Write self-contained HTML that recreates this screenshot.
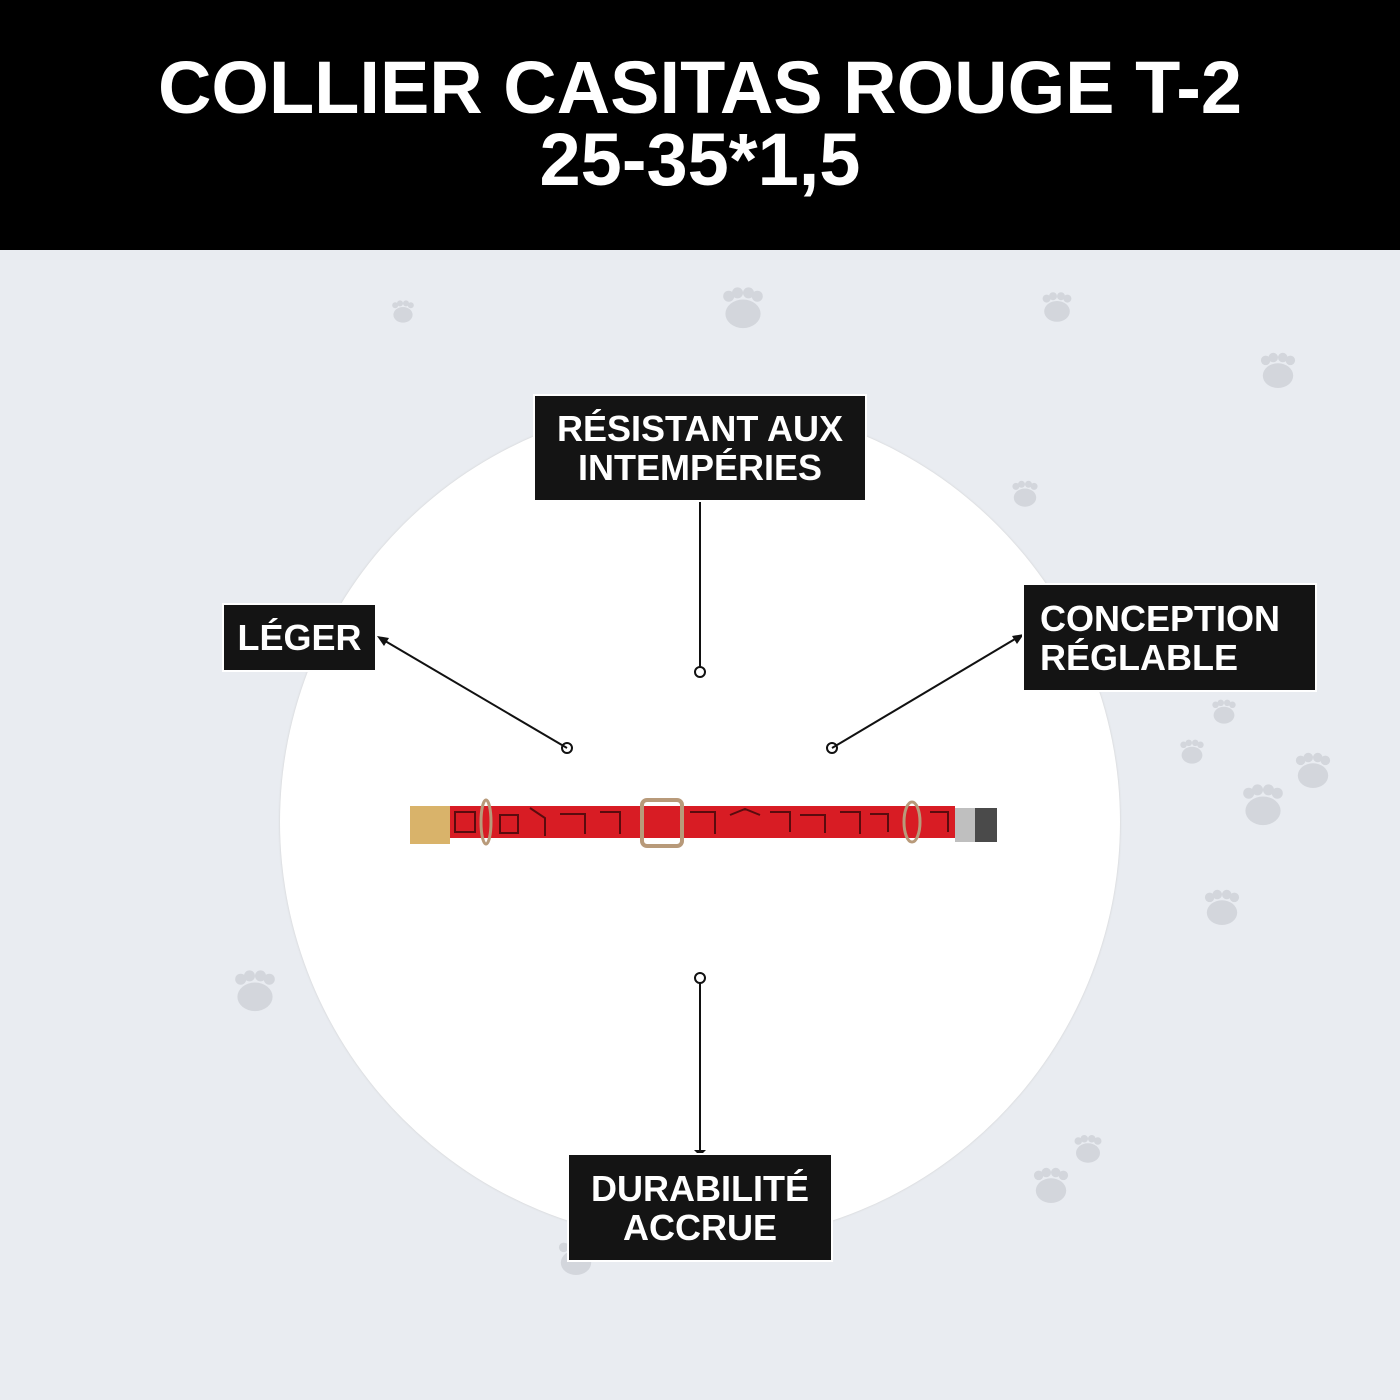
<!DOCTYPE html>
<html><head><meta charset="utf-8"><style>
body{margin:0;width:1400px;height:1400px;background:#e9ecf1;position:relative;overflow:hidden;font-family:"Liberation Sans",sans-serif}
.hdr{position:absolute;left:0;top:0;width:1400px;height:250px;background:#000;color:#fff;text-align:center;font-weight:bold;font-size:74px;line-height:72px;padding-top:52px;box-sizing:border-box}
.circ{position:absolute;left:280px;top:402px;width:840px;height:840px;border-radius:50%;background:#fff;box-shadow:0 0 2px #ccc}
.lab{position:absolute;background:#141414;color:#fff;font-weight:bold;font-size:36px;line-height:39px;box-sizing:border-box;outline:2px solid #fff;text-align:center;display:flex;align-items:center;justify-content:center}
svg{position:absolute;left:0;top:0}
</style></head><body>
<div class="hdr">COLLIER CASITAS ROUGE T-2<br>25-35*1,5</div>
<svg width="1400" height="1400">
<defs><g id="p" fill="#d3d6dc"><ellipse cx="0" cy="8" rx="16" ry="13"/><circle cx="-13" cy="-8" r="5"/><circle cx="-5" cy="-11" r="5"/><circle cx="5" cy="-11" r="5"/><circle cx="13" cy="-8" r="5"/></g></defs>
<use href="#p" transform="translate(403,310) scale(0.6)"/>
<use href="#p" transform="translate(743,305) scale(1.1)"/>
<use href="#p" transform="translate(1057,305) scale(0.8)"/>
<use href="#p" transform="translate(1278,368) scale(0.95)"/>
<use href="#p" transform="translate(1025,492) scale(0.7)"/>
<use href="#p" transform="translate(1224,710) scale(0.65)"/>
<use href="#p" transform="translate(1192,750) scale(0.65)"/>
<use href="#p" transform="translate(1313,768) scale(0.95)"/>
<use href="#p" transform="translate(1263,802) scale(1.1)"/>
<use href="#p" transform="translate(1222,905) scale(0.95)"/>
<use href="#p" transform="translate(255,988) scale(1.1)"/>
<use href="#p" transform="translate(1088,1147) scale(0.75)"/>
<use href="#p" transform="translate(1051,1183) scale(0.95)"/>
<use href="#p" transform="translate(576,1255) scale(0.95)"/>
</svg>
<div class="circ"></div>
<svg width="1400" height="1400">
<g stroke="#111" stroke-width="2" fill="none">
<line x1="567" y1="748" x2="380" y2="638"/><circle cx="567" cy="748" r="5"/>
<line x1="700" y1="502" x2="700" y2="667"/><circle cx="700" cy="672" r="5"/>
<line x1="832" y1="748" x2="1020" y2="636"/><circle cx="832" cy="748" r="5"/>
<line x1="700" y1="983" x2="700" y2="1152"/><circle cx="700" cy="978" r="5"/>
</g>
<g fill="#111"><polygon points="377,636 389,638 384,646"/><polygon points="1024,634 1012,636 1017,644"/><polygon points="694,1150 706,1150 700,1156"/></g>
<g>
<rect x="445" y="806" width="510" height="32" fill="#d81c24"/>
<g stroke="#5a0b0e" stroke-width="2" fill="none">
<path d="M455,812h20v20h-20zM500,815h18v18h-18zM530,808l15,10v18M560,814h25v20M600,812h20v22M690,812h25v22M730,815l15,-6 15,6M770,812h20v20M800,815h25v18M840,812h20v22M870,814h18v18M930,812h18v20"/>
</g>
<path d="M410,806h40v38h-40z" fill="#d9b36a"/>
<path d="M955,808h30v34h-30z" fill="#bfbfbf"/><rect x="975" y="808" width="22" height="34" fill="#4a4a4a"/>
<rect x="642" y="800" width="40" height="46" rx="5" fill="none" stroke="#b89a7a" stroke-width="4"/>
<ellipse cx="486" cy="822" rx="5" ry="22" fill="none" stroke="#b89a7a" stroke-width="3"/>
<ellipse cx="912" cy="822" rx="8" ry="20" fill="none" stroke="#b89a7a" stroke-width="3"/>
</g>
</svg>
<div class="lab" style="left:535px;top:396px;width:330px;height:104px">RÉSISTANT AUX<br>INTEMPÉRIES</div>
<div class="lab" style="left:224px;top:605px;width:151px;height:65px">LÉGER</div>
<div class="lab" style="left:1024px;top:585px;width:291px;height:105px;justify-content:flex-start;text-align:left;padding-left:16px">CONCEPTION<br>RÉGLABLE</div>
<div class="lab" style="left:569px;top:1155px;width:262px;height:105px">DURABILITÉ<br>ACCRUE</div>
</body></html>
